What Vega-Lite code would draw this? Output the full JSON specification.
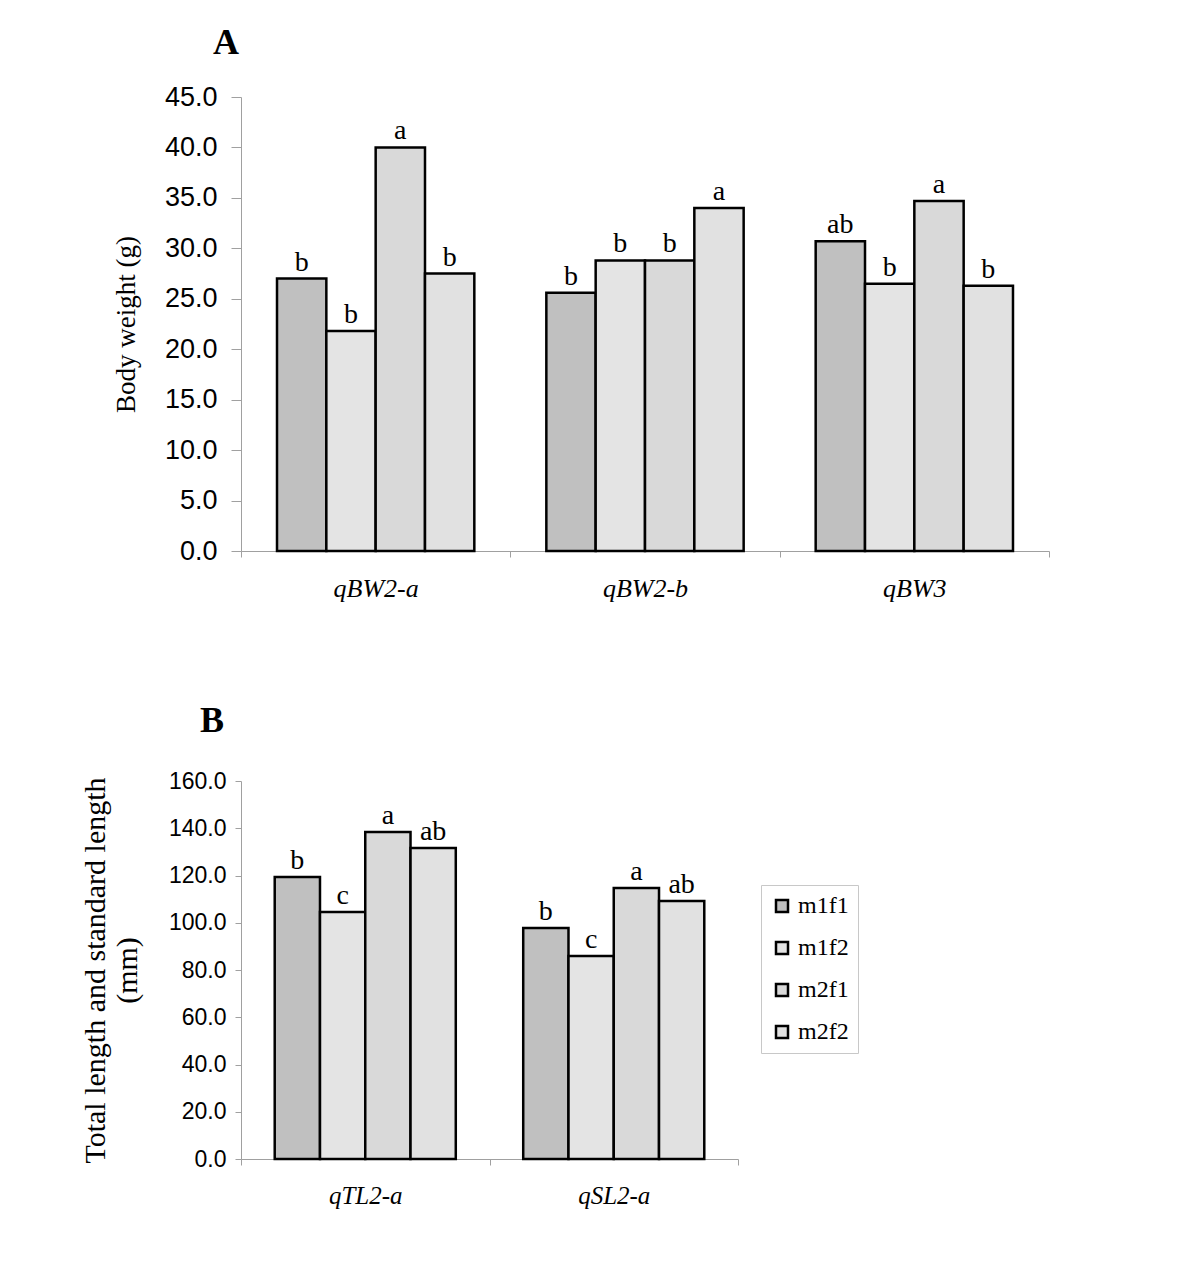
{
  "$schema": "https://vega.github.io/schema/vega-lite/v6.json",
  "background": "white",
  "padding": {"left": 80, "top": 25, "right": 5, "bottom": 5},
  "spacing": 102,
  "datasets": {
    "a": [
      {"locus": "qBW2-a", "genotype": "m1f1", "value": 27.0, "letter": "b"},
      {"locus": "qBW2-a", "genotype": "m1f2", "value": 21.8, "letter": "b"},
      {"locus": "qBW2-a", "genotype": "m2f1", "value": 40.0, "letter": "a"},
      {"locus": "qBW2-a", "genotype": "m2f2", "value": 27.5, "letter": "b"},
      {"locus": "qBW2-b", "genotype": "m1f1", "value": 25.6, "letter": "b"},
      {"locus": "qBW2-b", "genotype": "m1f2", "value": 28.8, "letter": "b"},
      {"locus": "qBW2-b", "genotype": "m2f1", "value": 28.8, "letter": "b"},
      {"locus": "qBW2-b", "genotype": "m2f2", "value": 34.0, "letter": "a"},
      {"locus": "qBW3", "genotype": "m1f1", "value": 30.7, "letter": "ab"},
      {"locus": "qBW3", "genotype": "m1f2", "value": 26.5, "letter": "b"},
      {"locus": "qBW3", "genotype": "m2f1", "value": 34.7, "letter": "a"},
      {"locus": "qBW3", "genotype": "m2f2", "value": 26.3, "letter": "b"}
    ],
    "b": [
      {"locus": "qTL2-a", "genotype": "m1f1", "value": 119.4, "letter": "b"},
      {"locus": "qTL2-a", "genotype": "m1f2", "value": 104.5, "letter": "c"},
      {"locus": "qTL2-a", "genotype": "m2f1", "value": 138.4, "letter": "a"},
      {"locus": "qTL2-a", "genotype": "m2f2", "value": 131.6, "letter": "ab"},
      {"locus": "qSL2-a", "genotype": "m1f1", "value": 97.8, "letter": "b"},
      {"locus": "qSL2-a", "genotype": "m1f2", "value": 85.9, "letter": "c"},
      {"locus": "qSL2-a", "genotype": "m2f1", "value": 114.7, "letter": "a"},
      {"locus": "qSL2-a", "genotype": "m2f2", "value": 109.2, "letter": "ab"}
    ]
  },
  "config": {
    "view": {"stroke": null},
    "axis": {"grid": false, "domainColor": "#a0a0a0", "tickColor": "#a0a0a0", "labelColor": "black", "titleColor": "black"},
    "title": {"font": "Liberation Serif", "fontSize": 36, "fontWeight": "bold", "anchor": "start", "frame": "group", "color": "black"}
  },
  "resolve": {"scale": {"color": "independent", "xOffset": "independent", "x": "independent", "y": "independent"}, "legend": {"color": "independent"}},
  "vconcat": [
    {
      "width": 808,
      "height": 454,
      "title": {"text": "A", "dx": -28, "offset": 21},
      "data": {"name": "a"},
      "encoding": {
        "x": {"field": "locus", "type": "nominal", "sort": null,
          "scale": {"paddingInner": 0, "paddingOuter": 0},
          "axis": {"title": null, "labelAngle": 0, "labelFont": "Liberation Serif", "labelFontStyle": "italic", "labelFontSize": 26, "labelPadding": 18, "tickBand": "extent", "tickSize": 6}},
        "xOffset": {"field": "genotype", "type": "nominal", "sort": ["m1f1", "m1f2", "m2f1", "m2f2"], "scale": {"paddingInner": 0, "paddingOuter": 0.73}},
        "y": {"field": "value", "type": "quantitative",
          "scale": {"domain": [0, 45]},
          "axis": {"title": "Body weight (g)", "titleFont": "Liberation Serif", "titleFontSize": 27, "titleFontWeight": "normal", "titlePadding": 24, "values": [0, 5, 10, 15, 20, 25, 30, 35, 40, 45], "format": ".1f", "labelFont": "Liberation Sans", "labelFontSize": 27, "tickSize": 10, "labelPadding": 14}}
      },
      "layer": [
        {
          "mark": {"type": "bar", "stroke": "black", "strokeWidth": 2.5},
          "encoding": {
            "color": {"field": "genotype", "type": "nominal", "scale": {"domain": ["m1f1", "m1f2", "m2f1", "m2f2"], "range": ["#c0c0c0", "#e4e4e4", "#d9d9d9", "#e1e1e1"]}, "legend": null}
          }
        },
        {
          "mark": {"type": "text", "font": "Liberation Serif", "fontSize": 28, "baseline": "bottom", "dy": -2, "color": "black"},
          "encoding": {"text": {"field": "letter"}}
        }
      ]
    },
    {
      "width": 497,
      "height": 378,
      "title": {"text": "B", "dx": -41, "offset": 30},
      "data": {"name": "b"},
      "encoding": {
        "x": {"field": "locus", "type": "nominal", "sort": null,
          "scale": {"paddingInner": 0, "paddingOuter": 0},
          "axis": {"title": null, "labelAngle": 0, "labelFont": "Liberation Serif", "labelFontStyle": "italic", "labelFontSize": 25, "labelPadding": 18, "tickBand": "extent", "tickSize": 6}},
        "xOffset": {"field": "genotype", "type": "nominal", "sort": ["m1f1", "m1f2", "m2f1", "m2f2"], "scale": {"paddingInner": 0, "paddingOuter": 0.745}},
        "y": {"field": "value", "type": "quantitative",
          "scale": {"domain": [0, 160]},
          "axis": {"title": ["Total length and standard length", "(mm)"], "titleFont": "Liberation Serif", "titleFontSize": 30, "titleFontWeight": "normal", "titleLineHeight": 32, "titlePadding": 26, "values": [0, 20, 40, 60, 80, 100, 120, 140, 160], "format": ".1f", "labelFont": "Liberation Sans", "labelFontSize": 23, "tickSize": 6, "labelPadding": 9}}
      },
      "layer": [
        {
          "mark": {"type": "bar", "stroke": "black", "strokeWidth": 2.5},
          "encoding": {
            "color": {"field": "genotype", "type": "nominal", "scale": {"domain": ["m1f1", "m1f2", "m2f1", "m2f2"], "range": ["#c0c0c0", "#e4e4e4", "#d9d9d9", "#e1e1e1"]},
              "legend": {"title": null, "orient": "none", "legendX": 520, "legendY": 104, "labelFont": "Liberation Serif", "labelFontSize": 24, "symbolType": "square", "symbolSize": 144, "symbolStrokeColor": "black", "symbolStrokeWidth": 2.5, "rowPadding": 18, "strokeColor": "#c8c8c8", "padding": 9, "labelOffset": 4}}
          }
        },
        {
          "mark": {"type": "text", "font": "Liberation Serif", "fontSize": 28, "baseline": "bottom", "dy": -2, "color": "black"},
          "encoding": {"text": {"field": "letter"}}
        }
      ]
    }
  ]
}
